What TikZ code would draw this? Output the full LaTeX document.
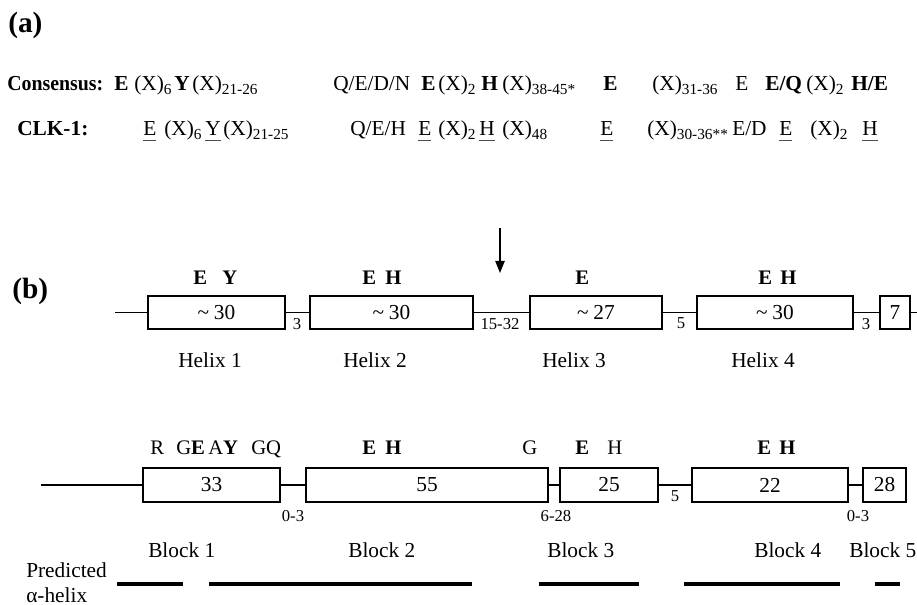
\documentclass[tikz,border=0pt]{standalone}
\usepackage{fontspec}
\setmainfont{Liberation Serif}
\usetikzlibrary{arrows.meta}
\newcommand\sbx[1]{\raisebox{-2.8pt}{\fontsize{11.5}{12}\selectfont #1}}
\newcommand\ulx[1]{\setbox0\hbox{#1}\rlap{\color{black!70}\rule[-3.5pt]{\wd0}{0.6pt}}\box0}
\begin{document}
\begin{tikzpicture}[x=0.75pt,y=-0.75pt,
  seq/.style={anchor=base west, inner sep=0pt, font=\fontsize{16}{19}\selectfont},
  lab/.style={anchor=base west, inner sep=0pt, font=\fontsize{15.5}{18}\selectfont},
  gap/.style={anchor=base, inner sep=0pt, font=\fontsize{12.5}{14}\selectfont},
  hbox/.style={draw, line width=1pt, inner sep=0pt, minimum height=24.75pt, font=\fontsize{16}{19}\selectfont},
  bbox/.style={draw, line width=1pt, inner sep=0pt, minimum height=25.5pt, font=\fontsize{16}{19}\selectfont},
  conn/.style={line width=1pt},
  bar/.style={line width=3pt},
  big/.style={anchor=west, inner sep=0pt, font=\fontsize{22}{26}\selectfont\bfseries}]
\useasboundingbox (0,0) rectangle (917,605);

% (a)
\node[big] (pa) at (8,25) {(a)};
% Consensus
\node[seq] (c0) at (7,91) {\scalebox{0.93}[1]{\textbf{Consensus:}}};
\node[seq] (c1) at (114,91) {\textbf{E}};
\node[seq] (c2) at (134,91) {(X)\sbx{6}};
\node[seq] (c3) at (174,91) {\textbf{Y}};
\node[seq] (c4) at (192,91) {(X)\sbx{21-26}};
\node[seq] (c5) at (333,91) {Q/E/D/N};
\node[seq] (c6) at (421,91) {\textbf{E}};
\node[seq] (c7) at (438,91) {(X)\sbx{2}};
\node[seq] (c8) at (481,91) {\textbf{H}};
\node[seq] (c9) at (502,91) {(X)\sbx{38-45*}};
\node[seq] (c10) at (603,91) {\textbf{E}};
\node[seq] (c11) at (652,91) {(X)\sbx{31-36}};
\node[seq] (c12) at (735,91) {E};
\node[seq] (c13) at (765,91) {\textbf{E/Q}};
\node[seq] (c14) at (806,91) {(X)\sbx{2}};
\node[seq] (c15) at (851,91) {\textbf{H/E}};
% CLK-1
\node[seq] (k0) at (17,136) {\textbf{CLK-1:}};
\node[seq] (k1) at (143,136) {\ulx{E}};
\node[seq] (k2) at (164,136) {(X)\sbx{6}};
\node[seq] (k3) at (205,136) {\ulx{Y}};
\node[seq] (k4) at (223,136) {(X)\sbx{21-25}};
\node[seq] (k5) at (350,136) {Q/E/H};
\node[seq] (k6) at (418,136) {\ulx{E}};
\node[seq] (k7) at (438,136) {(X)\sbx{2}};
\node[seq] (k8) at (479,136) {\ulx{H}};
\node[seq] (k9) at (502,136) {(X)\sbx{48}};
\node[seq] (k10) at (600,136) {\ulx{E}};
\node[seq] (k11) at (647,136) {(X)\sbx{30-36**}};
\node[seq] (k12) at (732,136) {E/D};
\node[seq] (k13) at (779,136) {\ulx{E}};
\node[seq] (k14) at (810,136) {(X)\sbx{2}};
\node[seq] (k15) at (862,136) {\ulx{H}};

% (b)
\node[big] (pb) at (12,291) {(b)};
\coordinate (arT) at (500,228);
\coordinate (arB) at (500,273);
\draw[line width=1pt, -{Triangle[length=9pt,width=7pt]}] (arT) -- (arB);

% top row labels
\node[lab] (t1) at (193,285) {\textbf{E}};
\node[lab] (t2) at (222,285) {\textbf{Y}};
\node[lab] (t3) at (362,285) {\textbf{E}};
\node[lab] (t4) at (385,285) {\textbf{H}};
\node[lab] (t5) at (575,285) {\textbf{E}};
\node[lab] (t6) at (758,285) {\textbf{E}};
\node[lab] (t7) at (780,285) {\textbf{H}};

% top row boxes
\node[hbox, minimum width=102.75pt] (h1) at (216.5,312.5) {\textasciitilde\hspace{3.5pt}30};
\node[hbox, minimum width=122.25pt] (h2) at (391.5,312.5) {\textasciitilde\hspace{3.5pt}30};
\node[hbox, minimum width=99pt] (h3) at (596,312.5) {\textasciitilde\hspace{3.5pt}27};
\node[hbox, minimum width=117pt] (h4) at (775,312.5) {\textasciitilde\hspace{3.5pt}30};
\node[hbox, minimum width=22.5pt] (h5) at (895,312.5) {7};
\coordinate (hl) at (115,312.5);
\coordinate (hr) at (917,312.5);
\draw[conn] (hl) -- (h1.west);
\draw[conn] (h1.east) -- (h2.west);
\draw[conn] (h2.east) -- (h3.west);
\draw[conn] (h3.east) -- (h4.west);
\draw[conn] (h4.east) -- (h5.west);
\draw[conn] (h5.east) -- (hr);
\node[gap] (g1) at (297,330) {3};
\node[gap] (g2) at (500,330) {15-32};
\node[gap] (g3) at (681,329) {5};
\node[gap] (g4) at (866,330) {3};

% helix labels
\node[seq] (x1) at (178,368) {Helix 1};
\node[seq] (x2) at (343,368) {Helix 2};
\node[seq] (x3) at (542,368) {Helix 3};
\node[seq] (x4) at (731,368) {Helix 4};

% bottom row labels
\node[lab] (u1) at (150,455) {R};
\node[lab] (u2) at (176,455) {G\textbf{E}};
\node[lab] (u3) at (208,455) {A\textbf{Y}};
\node[lab] (u4) at (251,455) {GQ};
\node[lab] (u5) at (362,455) {\textbf{E}};
\node[lab] (u6) at (385,455) {\textbf{H}};
\node[lab] (u7) at (522,455) {G};
\node[lab] (u8) at (575,455) {\textbf{E}};
\node[lab] (u9) at (607,455) {H};
\node[lab] (u10) at (757,455) {\textbf{E}};
\node[lab] (u11) at (779,455) {\textbf{H}};

% bottom row boxes
\node[bbox, minimum width=102.75pt] (b1) at (211.5,485) {33};
\node[bbox, minimum width=181.5pt] (b2) at (427,485) {55};
\node[bbox, minimum width=73.5pt] (b3) at (609,485) {25};
\node[bbox, minimum width=117pt] (b4) at (770,485) {22};
\node[bbox, minimum width=32.25pt] (b5) at (884.5,485) {28};
\coordinate (bl) at (41,485);
\draw[conn] (bl) -- (b1.west);
\draw[conn] (b1.east) -- (b2.west);
\draw[conn] (b2.east) -- (b3.west);
\draw[conn] (b3.east) -- (b4.west);
\draw[conn] (b4.east) -- (b5.west);
\node[gap] (q1) at (293,522) {0-3};
\node[gap] (q2) at (556,522) {6-28};
\node[gap] (q3) at (675,502) {5};
\node[gap] (q4) at (858,522) {0-3};

% block labels
\node[seq] (k1b) at (148,557) {Block 1};
\node[seq] (k2b) at (348,557) {Block 2};
\node[seq] (k3b) at (547,557) {Block 3};
\node[seq] (k4b) at (754,557) {Block 4};
\node[seq] (k5b) at (849,557) {Block 5};
\node[seq] (pr1) at (26,577) {Predicted};
\node[seq] (pr2) at (26,602) {α-helix};

% predicted helix bars
\draw[bar] (117,584) -- (183,584);
\draw[bar] (209,584) -- (472,584);
\draw[bar] (539,584) -- (639,584);
\draw[bar] (684,584) -- (840,584);
\draw[bar] (875,584) -- (900,584);
\end{tikzpicture}
\end{document}
